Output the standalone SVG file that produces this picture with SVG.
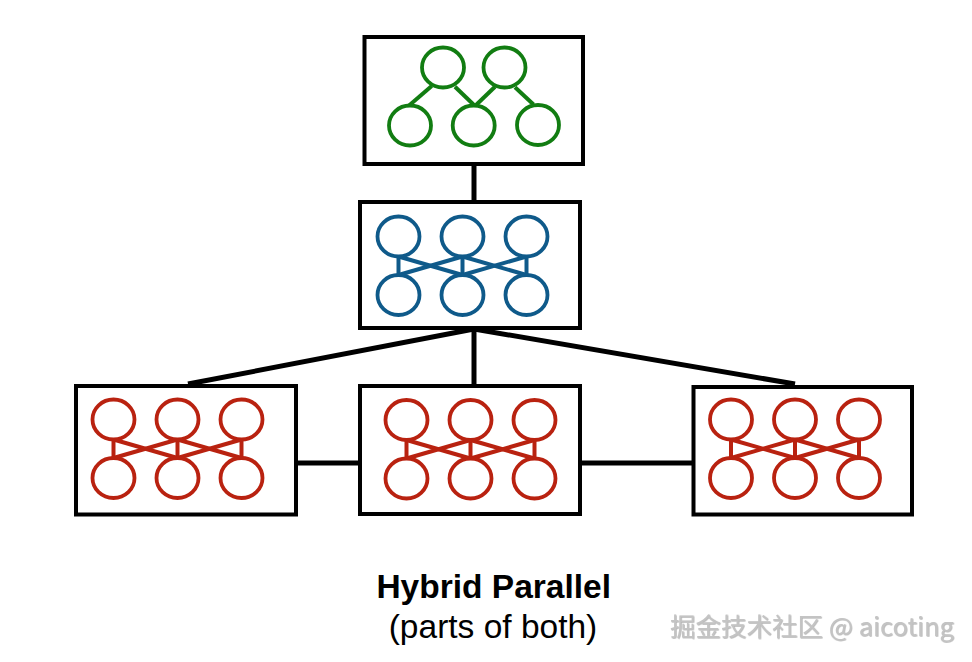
<svg xmlns="http://www.w3.org/2000/svg" xmlns:xlink="http://www.w3.org/1999/xlink" width="972" height="662" viewBox="0 0 972 662">
  <style>
    .box { fill: #ffffff; stroke: #000000; stroke-width: 4; }
    .conn { stroke: #000000; stroke-width: 5; fill: none; }
    .c { fill: #ffffff; stroke: currentColor; stroke-width: 3.8; }
    .l { stroke: currentColor; stroke-width: 4; fill: none; }
    .green { color: #127d12; }
    .blue { color: #0f5a8a; }
    .red { color: #b92210; }
    .title { font-family: "Liberation Sans", Arial, sans-serif; font-size: 33.5px; font-weight: bold; fill: #000; text-anchor: middle; }
    .sub { font-family: "Liberation Sans", Arial, sans-serif; font-size: 33.5px; fill: #000; text-anchor: middle; }
    .wm { font-family: "Noto Sans CJK SC", "Noto Sans", sans-serif; font-size: 25px; fill: #c4c4c4; }
  </style>
  <defs>
    <filter id="emboss" x="-5%" y="-20%" width="110%" height="140%">
      <feDropShadow dx="0.7" dy="0.7" stdDeviation="0.3" flood-color="#777777" flood-opacity="0.6"/>
    </filter>
    <g id="cluster">
      <line class="l" x1="0" y1="20" x2="0" y2="38.5"/>
      <line class="l" x1="64" y1="20" x2="64" y2="38.5"/>
      <line class="l" x1="128" y1="20" x2="128" y2="38.5"/>
      <line class="l" x1="0" y1="20" x2="64" y2="38.5"/>
      <line class="l" x1="0" y1="38.5" x2="64" y2="20"/>
      <line class="l" x1="64" y1="20" x2="128" y2="38.5"/>
      <line class="l" x1="64" y1="38.5" x2="128" y2="20"/>
      <ellipse class="c" cx="0" cy="0" rx="21" ry="20"/>
      <ellipse class="c" cx="64" cy="0" rx="21" ry="20"/>
      <ellipse class="c" cx="128" cy="0" rx="21" ry="20"/>
      <ellipse class="c" cx="0" cy="58.5" rx="21" ry="20"/>
      <ellipse class="c" cx="64" cy="58.5" rx="21" ry="20"/>
      <ellipse class="c" cx="128" cy="58.5" rx="21" ry="20"/>
    </g>
  </defs>

  <rect x="0" y="0" width="972" height="662" fill="#ffffff"/>

  <g id="connectors">
    <line class="conn" x1="474" y1="164" x2="474" y2="202"/>
    <line class="conn" x1="474" y1="329" x2="474" y2="386"/>
    <line class="conn" x1="474" y1="329" x2="188" y2="384"/>
    <line class="conn" x1="474" y1="329" x2="795" y2="384"/>
    <line class="conn" x1="296" y1="463" x2="360" y2="463"/>
    <line class="conn" x1="580" y1="463" x2="693.5" y2="463"/>
  </g>

  <g id="node-top" class="green">
    <rect class="box" x="364.5" y="37" width="218.5" height="127"/>
    <line class="l" x1="431.7" y1="86" x2="408.5" y2="106"/>
    <line class="l" x1="455" y1="86.7" x2="475" y2="106"/>
    <line class="l" x1="495" y1="86.7" x2="475" y2="106"/>
    <line class="l" x1="515" y1="87.3" x2="533.5" y2="104.5"/>
    <ellipse class="c" cx="443" cy="67.5" rx="21" ry="20"/>
    <ellipse class="c" cx="504.5" cy="67.5" rx="21" ry="20"/>
    <ellipse class="c" cx="410" cy="125.5" rx="21" ry="20"/>
    <ellipse class="c" cx="473.7" cy="125.5" rx="21" ry="20"/>
    <ellipse class="c" cx="538" cy="125" rx="21" ry="20"/>
  </g>

  <g id="node-middle" class="blue">
    <rect class="box" x="360" y="202" width="220" height="126"/>
    <use xlink:href="#cluster" href="#cluster" transform="translate(398.5,236.5)"/>
  </g>

  <g id="node-left" class="red">
    <rect class="box" x="76" y="386" width="220" height="128.5"/>
    <use xlink:href="#cluster" href="#cluster" transform="translate(113.5,419.5)"/>
  </g>

  <g id="node-center" class="red">
    <rect class="box" x="360" y="386" width="220" height="128"/>
    <use xlink:href="#cluster" href="#cluster" transform="translate(406.5,420)"/>
  </g>

  <g id="node-right" class="red">
    <rect class="box" x="693.5" y="387" width="218.5" height="127.5"/>
    <use xlink:href="#cluster" href="#cluster" transform="translate(731,419.5)"/>
  </g>

  <g id="caption">
    <text class="title" x="493.7" y="598">Hybrid Parallel</text>
    <text class="sub" x="493" y="638">(parts of both)</text>
  </g>

  <text class="wm" x="670" y="636" textLength="284" lengthAdjust="spacingAndGlyphs" filter="url(#emboss)">掘金技术社区 @ aicoting</text>
</svg>
